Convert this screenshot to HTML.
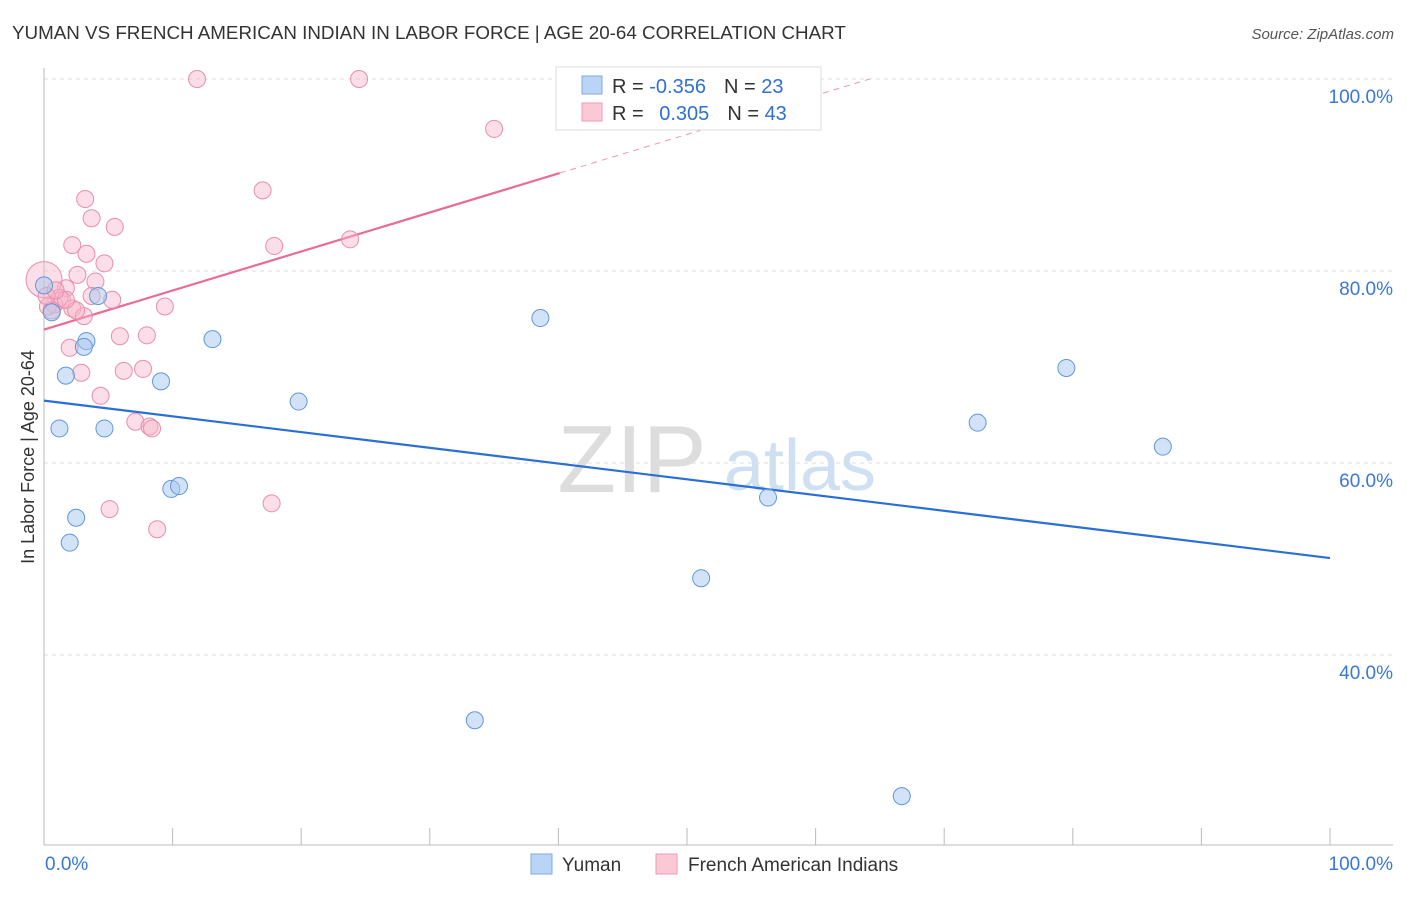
<!DOCTYPE html>
<html><head><meta charset="utf-8"><style>
body{margin:0;background:#fff;font-family:"Liberation Sans",sans-serif;}
svg text{font-family:"Liberation Sans",sans-serif;}
</style></head><body>
<svg id="c" width="1406" height="892" xmlns="http://www.w3.org/2000/svg">
<text x="12" y="39" font-size="18.8" fill="#333">YUMAN VS FRENCH AMERICAN INDIAN IN LABOR FORCE | AGE 20-64 CORRELATION CHART</text>
<text x="1394" y="39" font-size="15" fill="#555" font-style="italic" text-anchor="end">Source: ZipAtlas.com</text>
<text x="0" y="0" font-size="18" fill="#333" text-anchor="middle" transform="translate(34,457) rotate(-90)">In Labor Force | Age 20-64</text>
<g><text x="632" y="492" font-size="96" font-family="Liberation Serif" fill="#ddd" text-anchor="middle">ZIP</text><text x="800" y="490" font-size="72" fill="#cfe0f2" text-anchor="middle">atlas</text></g>
<g id="grid"></g><g id="axes"></g><g id="lines"></g><g id="pts"></g>
<g>
<rect x="556" y="67" width="265" height="63" fill="#fff" stroke="#ddd"/>
<rect x="582" y="76" width="20" height="18" fill="#b9d4f5" stroke="#7eaae4"/>
<rect x="582" y="103" width="20" height="18" fill="#fbc8d6" stroke="#ef9ab4"/>
<text x="612" y="93" font-size="20" fill="#333">R = <tspan fill="#2f6fd6">-0.356</tspan><tspan dx="18">N = </tspan><tspan fill="#2f6fd6">23</tspan></text>
<text x="612" y="120" font-size="20" fill="#333">R = <tspan fill="#2f6fd6" dx="10">0.305</tspan><tspan dx="18">N = </tspan><tspan fill="#2f6fd6">43</tspan></text>
</g>
<g>
<rect x="531" y="854" width="21" height="20" fill="#b9d4f5" stroke="#7eaae4"/>
<text x="562" y="871" font-size="19" fill="#333">Yuman</text>
<rect x="656" y="854" width="21" height="20" fill="#fbc8d6" stroke="#ef9ab4"/>
<text x="688" y="871" font-size="19" fill="#333">French American Indians</text>
</g>
</svg>
<script>
const yumanX=[0,0.6,4.2,3.3,3.1,1.7,1.2,4.7,9.1,13.1,19.8,9.9,10.5,2.5,2.0,38.6,33.5,51.1,56.3,72.6,79.5,87.0,66.7];
const yumanY=[78.5,75.7,77.4,72.7,72.1,69.1,63.6,63.6,68.5,72.9,66.4,57.3,57.6,54.3,51.7,75.1,33.2,48.0,56.4,64.2,69.9,61.7,25.3];
const frenchX=[11.9,24.5,35.0,3.2,17.0,3.7,5.5,2.2,17.9,23.8,3.3,4.7,2.6,4.0,1.7,0,1.4,5.3,2.2,3.1,0.8,0.3,9.4,5.9,8.0,2.0,2.9,6.2,7.7,4.4,7.1,8.2,8.4,5.1,17.7,8.8,1.2,0.6,2.5,1.7,0.2,0.9,3.7];
const frenchY=[100,100,94.8,87.5,88.4,85.5,84.6,82.7,82.6,83.3,81.8,80.8,79.6,78.9,78.2,79.1,77.0,77.0,76.1,75.3,76.5,76.3,76.3,73.2,73.3,72.0,69.4,69.6,69.8,67.0,64.3,63.8,63.6,55.2,55.8,53.1,77.2,75.9,75.9,77.0,77.4,78.0,77.4];
const yumanTrend=[66.5,50.1];
const frenchTrend=[73.9,0.4065];
const yTicks=[100,80,60,40];
const yTickLabels=["100.0%","80.0%","60.0%","40.0%"];
const xTickLabels=["0.0%","100.0%"];
const NS="http://www.w3.org/2000/svg";
const X=v=>44+v*12.86, Y=v=>79+(100-v)*9.6;
function mk(p,t,a){const e=document.createElementNS(NS,t);for(const k in a)e.setAttribute(k,a[k]);document.getElementById(p).appendChild(e);return e;}
yTicks.forEach((t,i)=>{
 const g=mk('grid','line',{x1:44,x2:1393,y1:Y(t),y2:Y(t),stroke:'#ddd','stroke-dasharray':'4,4'});
 
 
 const l=mk('axes','text',{x:1393,y:Y(t)+24,'font-size':19,fill:'#3a78d4','text-anchor':'end'});
 l.textContent=yTickLabels[i];
 
 
});
mk('axes','line',{x1:44,x2:44,y1:68,y2:845,stroke:'#bbb'});
mk('axes','line',{x1:44,x2:1393,y1:845,y2:845,stroke:'#bbb'});
for(let i=0;i<=10;i++){const t=mk('axes','line',{x1:X(i*10),x2:X(i*10),y1:828,y2:845,stroke:'#bbb'});
 
 }
[[0,'start'],[100,'end']].forEach((d,i)=>{const l=mk('axes','text',{x:X(d[0])+1,y:870,'font-size':19,fill:'#3a78d4','text-anchor':'start'});
 if(i){l.setAttribute('x',1393);l.setAttribute('text-anchor','end');}
 l.textContent=xTickLabels[i];
 
 });
let ln=mk('lines','line',{x1:X(0),y1:Y(yumanTrend[0]),x2:X(100),y2:Y(yumanTrend[1]),stroke:'#2a6fd6','stroke-width':2.2});


const fEnd=40.1, fTop=(100-frenchTrend[0])/frenchTrend[1];
ln=mk('lines','line',{x1:X(0),y1:Y(frenchTrend[0]),x2:X(fEnd),y2:Y(frenchTrend[0]+frenchTrend[1]*fEnd),stroke:'#e86c95','stroke-width':2.2});


ln=mk('lines','line',{x1:X(fEnd),y1:Y(frenchTrend[0]+frenchTrend[1]*fEnd),x2:X(fTop),y2:Y(100),stroke:'#e86c95','stroke-width':1,'stroke-dasharray':'6,5',opacity:0.7});


frenchX.forEach((x,i)=>{const big=(x===0&&frenchY[i]>79);
 const c=mk('pts','circle',{cx:X(x),cy:Y(frenchY[i]),r:big?18:8.5,fill:'#f7b6c9','fill-opacity':0.45,stroke:'#eb8dab','stroke-width':1});
 
 });
yumanX.forEach((x,i)=>{const c=mk('pts','circle',{cx:X(x),cy:Y(yumanY[i]),r:8.5,fill:'#a8c8f0','fill-opacity':0.5,stroke:'#5f97de','stroke-width':1});
 
 });
</script>
</body></html>
